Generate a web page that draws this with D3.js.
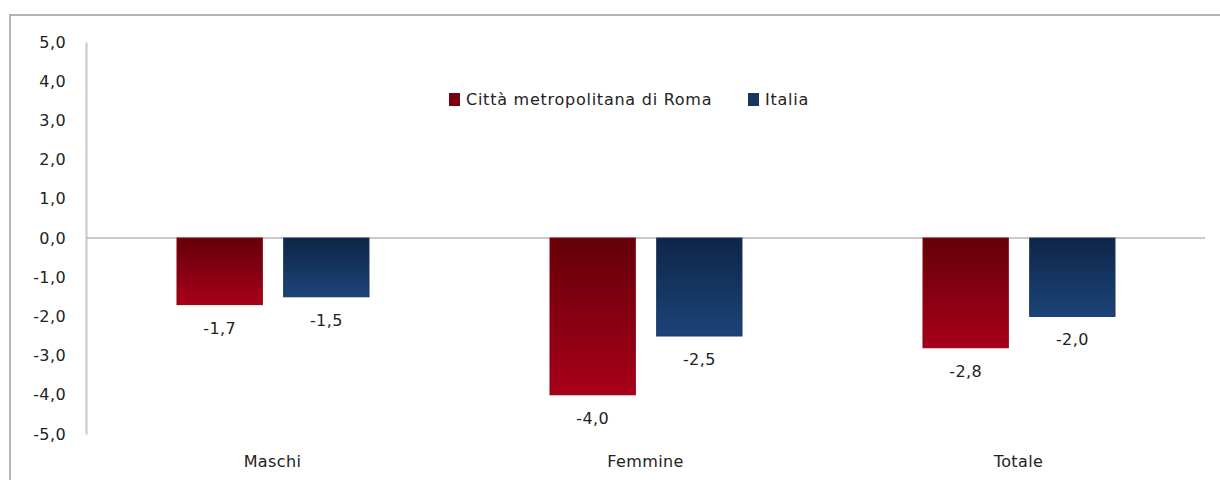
<html>
<head>
<meta charset="utf-8">
<script src="https://d3js.org/d3.v7.min.js"></script>
<style>
  body { margin: 0; background: #fff; }
  text { font-family: "DejaVu Sans", Verdana, sans-serif; fill: #222; letter-spacing: 0.4px; }
</style>
</head>
<body>
<svg width="1220" height="480"></svg>
<script>
// ---------------- data ----------------
const categories = ["Maschi", "Femmine", "Totale"];
const seriesNames = ["Città metropolitana di Roma", "Italia"];
const romaValues = [-1.7, -4.0, -2.8];
const italiaValues = [-1.5, -2.5, -2.0];
const yTicks = [5, 4, 3, 2, 1, 0, -1, -2, -3, -4, -5];

const svg = d3.select("svg");
const fmt = v => v.toFixed(1).replace(".", ",");

// frame (grey border top and left)
svg.append("line").attr("x1", 9).attr("x2", 1220).attr("y1", 15).attr("y2", 15)
  .style("stroke", "#b4b4b4").style("stroke-width", 2);
svg.append("line").attr("x1", 10).attr("x2", 10).attr("y1", 14).attr("y2", 480)
  .style("stroke", "#b4b4b4").style("stroke-width", 2);

// gradients
const defs = svg.append("defs");
function grad(id, top, bottom) {
  const g = defs.append("linearGradient").attr("id", id)
    .attr("x1", 0).attr("y1", 0).attr("x2", 0).attr("y2", 1);
  g.append("stop").attr("offset", "0%").attr("stop-color", top);
  g.append("stop").attr("offset", "100%").attr("stop-color", bottom);
}
grad("gRed", "#640008", "#a8001a");
grad("gBlue", "#0e2548", "#1c4478");

// ---------------- scales ----------------
const x0 = d3.scaleBand().domain(categories).range([86, 1205]);
const x1 = d3.scaleBand().domain(seriesNames).range([91, 283]).paddingInner(0.2).paddingOuter(0);
const y = d3.scaleLinear().domain([-5, 5]).range([434, 42]);

// y axis
const yAxis = svg.append("g").attr("transform", "translate(86,0)")
  .call(d3.axisLeft(y).tickValues(yTicks).tickFormat(fmt).tickSize(0).tickPadding(20));
yAxis.select(".domain").style("stroke", "#c8c8c8").style("stroke-width", 2);
yAxis.selectAll("text").style("font-size", "16px").style("fill", "#222")
  .style("font-family", "'DejaVu Sans', Verdana, sans-serif");

// zero line
svg.append("line").attr("x1", 86).attr("x2", 1205).attr("y1", y(0)).attr("y2", y(0))
  .style("stroke", "#b8b8b8").style("stroke-width", 1.5);

// category labels
svg.append("g").selectAll("text").data(categories).enter().append("text")
  .attr("x", d => x0(d) + x0.bandwidth() / 2).attr("y", 467)
  .attr("text-anchor", "middle").style("font-size", "16px").text(d => d);

// ---------------- bars ----------------
const rows = categories.map((c, i) => ({
  cat: c,
  vals: [
    { s: seriesNames[0], v: romaValues[i], fill: "url(#gRed)", stroke: "#8a0010" },
    { s: seriesNames[1], v: italiaValues[i], fill: "url(#gBlue)", stroke: "#163660" }
  ]
}));

const grp = svg.append("g").selectAll("g").data(rows).enter().append("g")
  .attr("transform", d => "translate(" + x0(d.cat) + ",0)");

grp.selectAll("rect").data(d => d.vals).enter().append("rect")
  .attr("x", d => x1(d.s))
  .attr("y", y(0))
  .attr("width", x1.bandwidth())
  .attr("height", d => y(d.v) - y(0))
  .style("fill", d => d.fill)
  .style("stroke", d => d.stroke)
  .style("stroke-width", 1);

grp.selectAll("text.val").data(d => d.vals).enter().append("text")
  .attr("class", "val")
  .attr("x", d => x1(d.s) + x1.bandwidth() / 2)
  .attr("y", d => y(d.v) + 29)
  .attr("text-anchor", "middle").style("font-size", "16px")
  .text(d => fmt(d.v));

// ---------------- legend ----------------
const legend = [
  { name: seriesNames[0], color: "#7a0010", x: 449 },
  { name: seriesNames[1], color: "#163660", x: 748 }
];
const lg = svg.append("g").selectAll("g").data(legend).enter().append("g")
  .attr("transform", d => "translate(" + d.x + ",93)");
lg.append("rect").attr("width", 11).attr("height", 13).style("fill", d => d.color);
lg.append("text").attr("x", 17).attr("y", 12).style("font-size", "16px")
  .style("letter-spacing", "0.75px").text(d => d.name);
</script>
</body>
</html>
